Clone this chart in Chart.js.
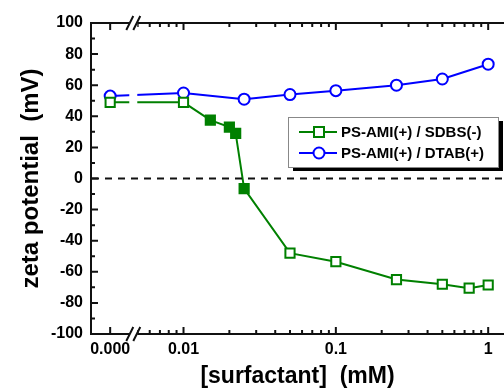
<!DOCTYPE html>
<html>
  <head>
    <title>Zeta potential vs surfactant</title>
    <script src="https://cdn.jsdelivr.net/npm/chart.js"></script>
    <style>
      body {
        margin: 0;
        background: #fff;
      }
    </style>
  </head>
  <body>
    <canvas id="zetaChart" width="504" height="390"></canvas>

    <script>
      // PS-AMI(+) / SDBS(-)
      let sdbsConc = [0, 0.01, 0.015, 0.02, 0.022, 0.025, 0.05, 0.1, 0.25, 0.5, 0.75, 1];
      let sdbsZeta = [49, 49, 37.5, 33, 29, -6.5, -48, -53.5, -65, -68, -70.5, -68.5];
      let sdbsFilled = [false, false, true, true, true, true, false, false, false, false, false, false];

      // PS-AMI(+) / DTAB(+)
      let dtabConc = [0, 0.01, 0.025, 0.05, 0.1, 0.25, 0.5, 1];
      let dtabZeta = [53, 55, 51, 54, 56.5, 60, 64, 73.5];

      let xTickValues = [0, 0.01, 0.1, 1];
      let xTickLabels = ["0.000", "0.01", "0.1", "1"];
      let xMinorValues = [0.005, 0.006, 0.007, 0.008, 0.009,
        0.02, 0.03, 0.04, 0.05, 0.06, 0.07, 0.08, 0.09,
        0.2, 0.3, 0.4, 0.5, 0.6, 0.7, 0.8, 0.9];

      // broken log axis: the zero concentration sits left of the break
      let ZERO_AT = 0.0033;
      let BREAK_AT = 0.00468;
      let X_MIN = 0.00247;
      let X_MAX = 1.27;

      let GREEN = "#008000";
      let BLUE = "#0000ff";
      let FONT = "'Liberation Sans', Arial, sans-serif";

      let toAxis = (c) => (c === 0 ? ZERO_AT : c);
      let noPad = (s) => {
        s.paddingLeft = 0;
        s.paddingRight = 0;
        s.paddingTop = 0;
        s.paddingBottom = 0;
      };

      let decor = {
        id: "decor",
        beforeDatasetsDraw(chart) {
          let { ctx, chartArea: a, scales } = chart;
          let x = scales.x, y = scales.y;
          ctx.save();
          ctx.strokeStyle = "#111";
          ctx.lineWidth = 2;

          // inward ticks
          ctx.beginPath();
          for (let v = -100; v <= 100; v += 10) {
            let py = y.getPixelForValue(v);
            let len = v % 20 === 0 ? 7 : 4;
            ctx.moveTo(a.left, py);
            ctx.lineTo(a.left + len, py);
          }
          let marks = xTickValues.map((v) => [toAxis(v), 7])
            .concat(xMinorValues.map((v) => [v, 4]));
          marks.forEach(([v, len]) => {
            let px = x.getPixelForValue(v);
            ctx.moveTo(px, a.bottom);
            ctx.lineTo(px, a.bottom - len);
            ctx.moveTo(px, a.top);
            ctx.lineTo(px, a.top + len);
          });
          ctx.stroke();
          ctx.restore();
        },
        afterDatasetsDraw(chart) {
          let { ctx, chartArea: a, scales } = chart;
          let bx = scales.x.getPixelForValue(BREAK_AT);
          ctx.save();

          // axis break
          ctx.fillStyle = "#fff";
          ctx.fillRect(bx - 4, a.top - 3, 8, a.bottom - a.top + 6);
          ctx.strokeStyle = "#111";
          ctx.lineWidth = 2;
          ctx.beginPath();
          [a.top, a.bottom].forEach((yy) => {
            [-3.5, 3.5].forEach((d) => {
              ctx.moveTo(bx + d - 3.5, yy + 7);
              ctx.lineTo(bx + d + 3.5, yy - 7);
            });
          });
          ctx.stroke();

          // dashed zero line
          let y0 = scales.y.getPixelForValue(0);
          ctx.setLineDash([7, 6]);
          ctx.beginPath();
          ctx.moveTo(a.left + 1, y0);
          ctx.lineTo(a.right, y0);
          ctx.stroke();
          ctx.setLineDash([]);

          // legend with drop shadow
          let lx = 288, ly = 117, lw = 210, lh = 50;
          ctx.fillStyle = "#000";
          ctx.fillRect(lx + 5, ly + 4, lw, lh);
          ctx.fillStyle = "#fff";
          ctx.fillRect(lx, ly, lw, lh);
          ctx.strokeStyle = "#888";
          ctx.lineWidth = 1;
          ctx.strokeRect(lx + 0.5, ly + 0.5, lw, lh);

          chart.data.datasets.forEach((ds, i) => {
            let ry = ly + 15 + i * 21;
            ctx.strokeStyle = ds.borderColor;
            ctx.lineWidth = 2;
            ctx.beginPath();
            ctx.moveTo(lx + 11, ry);
            ctx.lineTo(lx + 49, ry);
            ctx.stroke();
            ctx.fillStyle = "#fff";
            ctx.beginPath();
            if (ds.pointStyle === "rect") ctx.rect(lx + 26, ry - 5, 10, 10);
            else ctx.arc(lx + 31, ry, 5.5, 0, Math.PI * 2);
            ctx.fill();
            ctx.stroke();
            ctx.fillStyle = "#000";
            ctx.font = "bold 15px " + FONT;
            ctx.textBaseline = "middle";
            ctx.fillText(ds.label, lx + 53, ry + 1);
          });
          ctx.restore();
        },
      };

      let ctx = document.getElementById("zetaChart").getContext("2d");
      let chart = new Chart(ctx, {
        type: "line",
        data: {
          datasets: [
            {
              label: "PS-AMI(+) / SDBS(-)",
              data: sdbsConc.map((c, i) => ({ x: toAxis(c), y: sdbsZeta[i] })),
              borderColor: GREEN,
              borderWidth: 2,
              pointStyle: "rect",
              pointRadius: 6.5,
              pointBorderWidth: 2,
              pointBorderColor: GREEN,
              pointBackgroundColor: sdbsFilled.map((f) => (f ? GREEN : "#fff")),
            },
            {
              label: "PS-AMI(+) / DTAB(+)",
              data: dtabConc.map((c, i) => ({ x: toAxis(c), y: dtabZeta[i] })),
              borderColor: BLUE,
              borderWidth: 2,
              pointStyle: "circle",
              pointRadius: 5.5,
              pointBorderWidth: 2,
              pointBorderColor: BLUE,
              pointBackgroundColor: "#fff",
            },
          ],
        },
        options: {
          responsive: false,
          animation: false,
          layout: { autoPadding: false, padding: { top: 23, right: 0, left: 0, bottom: 0 } },
          plugins: { legend: { display: false }, tooltip: { enabled: false } },
          scales: {
            x: {
              type: "logarithmic",
              min: X_MIN,
              max: X_MAX,
              afterBuildTicks: (s) => {
                s.ticks = xTickValues.map((v) => ({ value: toAxis(v) }));
              },
              afterFit: (s) => {
                s.height = 56;
                noPad(s);
              },
              ticks: {
                callback: (v, i) => xTickLabels[i],
                autoSkip: false,
                maxRotation: 0,
                padding: 6,
                color: "#000",
                font: { family: FONT, size: 16, weight: "bold" },
              },
              grid: { drawOnChartArea: false, drawTicks: false },
              border: { color: "#111", width: 2 },
              title: {
                display: true,
                text: "[surfactant]  (mM)",
                color: "#000",
                padding: { top: 0, bottom: 0 },
                font: { family: FONT, size: 23, weight: "bold" },
              },
            },
            xTop: {
              type: "logarithmic",
              position: "top",
              min: X_MIN,
              max: X_MAX,
              afterFit: (s) => {
                s.height = 0;
                noPad(s);
              },
              ticks: { display: false },
              grid: { drawOnChartArea: false, drawTicks: false },
              border: { color: "#111", width: 2 },
            },
            y: {
              min: -100,
              max: 100,
              afterFit: (s) => {
                s.width = 91;
                noPad(s);
              },
              ticks: {
                stepSize: 20,
                padding: 8,
                color: "#000",
                font: { family: FONT, size: 16, weight: "bold" },
              },
              grid: { drawOnChartArea: false, drawTicks: false },
              border: { color: "#111", width: 2 },
              title: {
                display: true,
                text: "zeta potential  (mV)",
                color: "#000",
                padding: { top: 17, bottom: 0 },
                font: { family: FONT, size: 24, weight: "bold" },
              },
            },
          },
        },
        plugins: [decor],
      });
    </script>
  </body>
</html>
